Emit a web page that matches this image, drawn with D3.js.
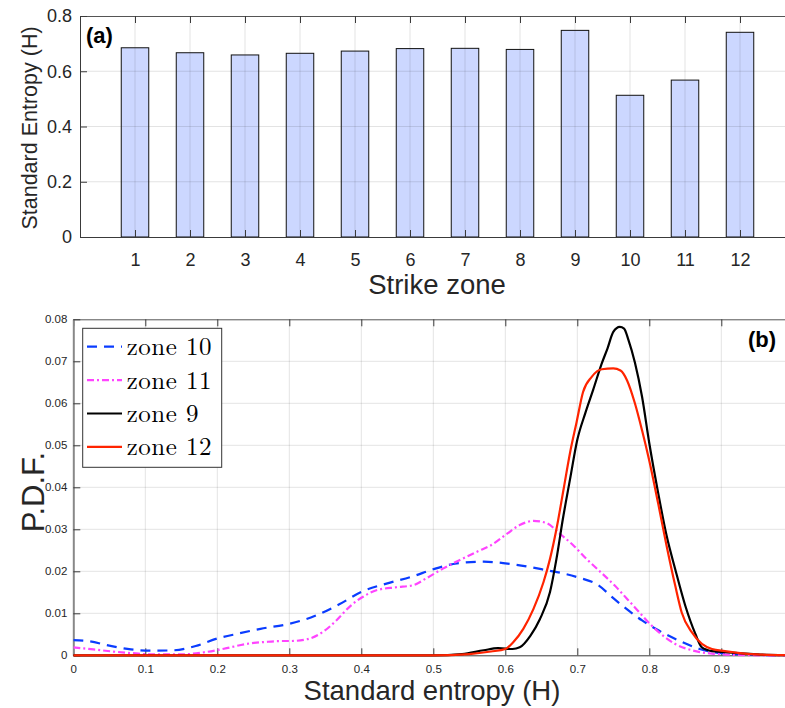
<!DOCTYPE html>
<html lang="en">
<head>
<meta charset="utf-8">
<title>Strike zone entropy</title>
<script src="https://d3js.org/d3.v7.min.js"></script>
<style>
  body { margin: 0; background: #fff; }
  svg { display: block; font-family: "Liberation Sans", Arial, Helvetica, sans-serif; }
  .tick text { fill: #262626; }
</style>
</head>
<body>
<svg id="chart" width="785" height="708"></svg>
<script>
// ---- panel (a): entropy per strike zone ----
var zones = [1, 2, 3, 4, 5, 6, 7, 8, 9, 10, 11, 12];
var entropy = [0.685, 0.667, 0.659, 0.665, 0.673, 0.682, 0.683, 0.679, 0.748, 0.513, 0.568, 0.741];
var entropyTicks = [0, 0.2, 0.4, 0.6, 0.8];

// ---- panel (b): pdf curves ----
var zone10X = [0, 0.02, 0.05, 0.08, 0.11, 0.14, 0.17, 0.2, 0.23, 0.26, 0.3, 0.33, 0.37, 0.4, 0.44, 0.47, 0.5, 0.53, 0.57, 0.6, 0.65, 0.7, 0.73, 0.75, 0.79, 0.81, 0.845, 0.87, 0.9, 0.95, 1];
var zone10Y = [0.0036, 0.0034, 0.0023, 0.0014, 0.0011, 0.0012, 0.0022, 0.0040, 0.0052, 0.0063, 0.0075, 0.0090, 0.0122, 0.0151, 0.0173, 0.0187, 0.0205, 0.0218, 0.0223, 0.0219, 0.0205, 0.0186, 0.0166, 0.0136, 0.0083, 0.0062, 0.0032, 0.0015, 0.0005, 0.0001, 0];
var zone11X = [0, 0.028, 0.055, 0.083, 0.111, 0.148, 0.185, 0.213, 0.24, 0.268, 0.29, 0.301, 0.324, 0.347, 0.366, 0.384, 0.403, 0.421, 0.449, 0.472, 0.49, 0.514, 0.537, 0.565, 0.579, 0.602, 0.62, 0.639, 0.657, 0.676, 0.695, 0.713, 0.728, 0.752, 0.78, 0.808, 0.836, 0.864, 0.887, 0.92, 0.96, 1];
var zone11Y = [0.0019, 0.0014, 0.0009, 0.0005, 0.0002, 0.0002, 0.0008, 0.0017, 0.0027, 0.0032, 0.0034, 0.0034, 0.0038, 0.0056, 0.0084, 0.0116, 0.0140, 0.0155, 0.0162, 0.0167, 0.0183, 0.0207, 0.0227, 0.0250, 0.0261, 0.0289, 0.0310, 0.0320, 0.0315, 0.0289, 0.0261, 0.0229, 0.0205, 0.0166, 0.0114, 0.0063, 0.0027, 0.0010, 0.0004, 0.0001, 0, 0];
var zone9X = [0, 0.5, 0.54, 0.57, 0.59, 0.61, 0.62, 0.635, 0.648, 0.662, 0.671, 0.68, 0.69, 0.7, 0.711, 0.722, 0.734, 0.742, 0.75, 0.759, 0.765, 0.771, 0.78, 0.79, 0.8, 0.8125, 0.824, 0.836, 0.85, 0.864, 0.873, 0.887, 0.9, 0.95, 1];
var zone9Y = [0, 0, 0.0003, 0.0012, 0.0017, 0.0015, 0.0019, 0.0047, 0.0086, 0.0150, 0.0229, 0.0325, 0.0420, 0.0513, 0.0576, 0.0632, 0.0695, 0.0731, 0.0770, 0.0782, 0.0778, 0.0751, 0.0697, 0.0615, 0.0505, 0.0385, 0.0285, 0.0205, 0.0118, 0.0051, 0.0019, 0.0010, 0.0008, 0.0002, 0];
var zone12X = [0, 0.5, 0.55, 0.58, 0.6, 0.611, 0.625, 0.639, 0.653, 0.662, 0.671, 0.681, 0.69, 0.699, 0.708, 0.72, 0.734, 0.75, 0.76, 0.769, 0.78, 0.79, 0.8, 0.8125, 0.824, 0.836, 0.845, 0.859, 0.873, 0.887, 0.905, 0.95, 1];
var zone12Y = [0, 0, 0.0003, 0.0009, 0.0015, 0.0031, 0.0063, 0.0110, 0.0174, 0.0229, 0.0300, 0.0396, 0.0483, 0.0555, 0.0627, 0.0663, 0.0681, 0.0683, 0.0678, 0.0655, 0.0600, 0.0535, 0.0463, 0.0360, 0.0261, 0.0166, 0.0102, 0.0055, 0.0027, 0.0015, 0.0010, 0.0002, 0];
var pdfXTicks = [0, 0.1, 0.2, 0.3, 0.4, 0.5, 0.6, 0.7, 0.8, 0.9];
var pdfYTicks = [0, 0.01, 0.02, 0.03, 0.04, 0.05, 0.06, 0.07, 0.08];

var series = [
  {name: "zone 10", xs: zone10X, ys: zone10Y, color: "#0a3cff", dash: "10,7"},
  {name: "zone 11", xs: zone11X, ys: zone11Y, color: "#ff44ff", dash: "7,3,2,3"},
  {name: "zone 9",  xs: zone9X,  ys: zone9Y,  color: "#000000", dash: null},
  {name: "zone 12", xs: zone12X, ys: zone12Y, color: "#ff2400", dash: null}
];

var svg = d3.select("#chart");
var gridColor = "rgba(38,38,38,0.13)";
var axisColor = "#3a3a3a";

// ================= panel (a) =================
var a = {left: 80, top: 16, bottom: 237};
var xa = d3.scaleLinear().domain([0, 13]).range([a.left, a.left + 13 * 55]);
var ya = d3.scaleLinear().domain([0, 0.8]).range([a.bottom, a.top]);

var ga = svg.append("g");

ga.selectAll(".bar")
  .data(zones)
  .enter().append("rect")
    .attr("class", "bar")
    .attr("x", function(d) { return xa(d - 0.25); })
    .attr("y", function(d, i) { return ya(entropy[i]); })
    .attr("width", xa(0.5) - xa(0))
    .attr("height", function(d, i) { return ya(0) - ya(entropy[i]); })
    .attr("fill", "#ccd7ff")
    .attr("stroke", "#111")
    .attr("stroke-width", 1);

// grid drawn over the bars (bars are semi transparent in the original)
ga.append("g").selectAll("line.vg").data(zones).enter().append("line")
    .attr("x1", function(d) { return xa(d); }).attr("x2", function(d) { return xa(d); })
    .attr("y1", a.top).attr("y2", a.bottom)
    .attr("stroke", gridColor);
ga.append("g").selectAll("line.hg").data(entropyTicks.slice(1, -1)).enter().append("line")
    .attr("x1", a.left).attr("x2", 785)
    .attr("y1", function(d) { return ya(d); }).attr("y2", function(d) { return ya(d); })
    .attr("stroke", gridColor);

var xAxisA = ga.append("g")
    .attr("transform", "translate(0," + a.bottom + ")")
    .call(d3.axisBottom(xa).tickValues(zones).tickSizeInner(-7).tickSizeOuter(0).tickPadding(16));
xAxisA.selectAll("text").style("font-size", "18px");
xAxisA.select(".domain").attr("stroke", axisColor);
xAxisA.selectAll(".tick line").attr("stroke", axisColor);

ga.append("g")
    .attr("transform", "translate(0," + a.top + ")")
    .call(d3.axisTop(xa).tickValues(zones).tickSizeInner(-7).tickSizeOuter(0).tickFormat(""))
    .call(function(g) { g.select(".domain").attr("stroke", "#555"); g.selectAll(".tick line").attr("stroke", axisColor); });

var yAxisA = ga.append("g")
    .attr("transform", "translate(" + a.left + ",0)")
    .call(d3.axisLeft(ya).tickValues(entropyTicks).tickSizeInner(-7).tickSizeOuter(0).tickPadding(8)
      .tickFormat(function(d) { return d === 0 ? "0" : d3.format(".1f")(d); }));
yAxisA.selectAll("text").style("font-size", "18px");
yAxisA.select(".domain").attr("stroke", axisColor);
yAxisA.selectAll(".tick line").attr("stroke", axisColor);

ga.append("text")
    .attr("x", 437).attr("y", 294)
    .attr("text-anchor", "middle")
    .style("font-size", "27.5px").attr("fill", "#262626")
    .text("Strike zone");

ga.append("text")
    .attr("transform", "translate(37,128) rotate(-90)")
    .attr("text-anchor", "middle")
    .style("font-size", "21.5px").attr("fill", "#262626")
    .text("Standard Entropy (H)");

ga.append("text")
    .attr("x", 86).attr("y", 43)
    .style("font-size", "22px").style("font-weight", "bold")
    .text("(a)");

// ================= panel (b) =================
var b = {left: 73.3, top: 319.3, bottom: 655.3};
var xb = d3.scaleLinear().domain([0, 1]).range([b.left, b.left + 720]);
var yb = d3.scaleLinear().domain([0, 0.08]).range([b.bottom, b.top]);

var gb = svg.append("g");

gb.append("clipPath").attr("id", "clipb")
  .append("rect").attr("x", b.left).attr("y", b.top).attr("width", 785 - b.left).attr("height", b.bottom - b.top + 2);

gb.append("g").selectAll("line").data(pdfXTicks.slice(1)).enter().append("line")
    .attr("x1", function(d) { return xb(d); }).attr("x2", function(d) { return xb(d); })
    .attr("y1", b.top).attr("y2", b.bottom)
    .attr("stroke", gridColor);
gb.append("g").selectAll("line").data(pdfYTicks.slice(1, -1)).enter().append("line")
    .attr("x1", b.left).attr("x2", 785)
    .attr("y1", function(d) { return yb(d); }).attr("y2", function(d) { return yb(d); })
    .attr("stroke", gridColor);

var xAxisB = gb.append("g")
    .attr("transform", "translate(0," + b.bottom + ")")
    .call(d3.axisBottom(xb).tickValues(pdfXTicks).tickSizeInner(-7).tickSizeOuter(0).tickPadding(10)
      .tickFormat(function(d) { return d === 0 ? "0" : d3.format(".1f")(d); }));
xAxisB.selectAll("text").style("font-size", "11.5px");
xAxisB.select(".domain").attr("stroke", axisColor);
xAxisB.selectAll(".tick line").attr("stroke", axisColor);

gb.append("g")
    .attr("transform", "translate(0," + b.top + ")")
    .call(d3.axisTop(xb).tickValues(pdfXTicks).tickSizeInner(-7).tickSizeOuter(0).tickFormat(""))
    .call(function(g) { g.select(".domain").attr("stroke", "#555"); g.selectAll(".tick line").attr("stroke", axisColor); });

var yAxisB = gb.append("g")
    .attr("transform", "translate(" + b.left + ",0)")
    .call(d3.axisLeft(yb).tickValues(pdfYTicks).tickSizeInner(-7).tickSizeOuter(0).tickPadding(6)
      .tickFormat(function(d) { return d === 0 ? "0" : d3.format(".2f")(d); }));
yAxisB.selectAll("text").style("font-size", "11.5px");
yAxisB.select(".domain").attr("stroke", "#888").attr("stroke-width", 2);
yAxisB.selectAll(".tick line").attr("stroke", axisColor);

var line = d3.line()
    .x(function(d) { return xb(d[0]); })
    .y(function(d) { return yb(d[1]); })
    .curve(d3.curveMonotoneX);

gb.append("g").attr("clip-path", "url(#clipb)")
  .selectAll("path")
  .data(series)
  .enter().append("path")
    .attr("d", function(s) { return line(d3.zip(s.xs, s.ys)); })
    .attr("fill", "none")
    .attr("stroke", function(s) { return s.color; })
    .attr("stroke-width", 2.2)
    .attr("stroke-dasharray", function(s) { return s.dash; });

gb.append("text")
    .attr("x", 432).attr("y", 700)
    .attr("text-anchor", "middle")
    .style("font-size", "27.5px").attr("fill", "#262626")
    .text("Standard entropy (H)");

gb.append("text")
    .attr("transform", "translate(44,492) rotate(-90)")
    .attr("text-anchor", "middle")
    .style("font-size", "31px").attr("fill", "#262626")
    .text("P.D.F.");

gb.append("text")
    .attr("x", 748).attr("y", 347)
    .style("font-size", "22px").style("font-weight", "bold")
    .text("(b)");

// legend
var lg = gb.append("g");
lg.append("rect")
    .attr("x", 82.7).attr("y", 328.3).attr("width", 139).attr("height", 139)
    .attr("fill", "#fff").attr("stroke", "#333").attr("stroke-width", 1);
var item = lg.selectAll(".item").data(series).enter().append("g")
    .attr("transform", function(s, i) { return "translate(0," + (346.7 + i * 33.4) + ")"; });
item.append("line")
    .attr("x1", 87).attr("x2", 122).attr("y1", 0).attr("y2", 0)
    .attr("stroke", function(s) { return s.color; })
    .attr("stroke-width", 2.2)
    .attr("stroke-dasharray", function(s) { return s.dash; });
item.append("text")
    .attr("x", 126.7).attr("y", 8.5)
    .style("font-family", "'Latin Modern Roman', 'Liberation Serif', 'Times New Roman', serif")
    .style("font-size", "25px")
    .style("letter-spacing", "0.5px")
    .text(function(s) { return s.name; });
</script>
</body>
</html>
